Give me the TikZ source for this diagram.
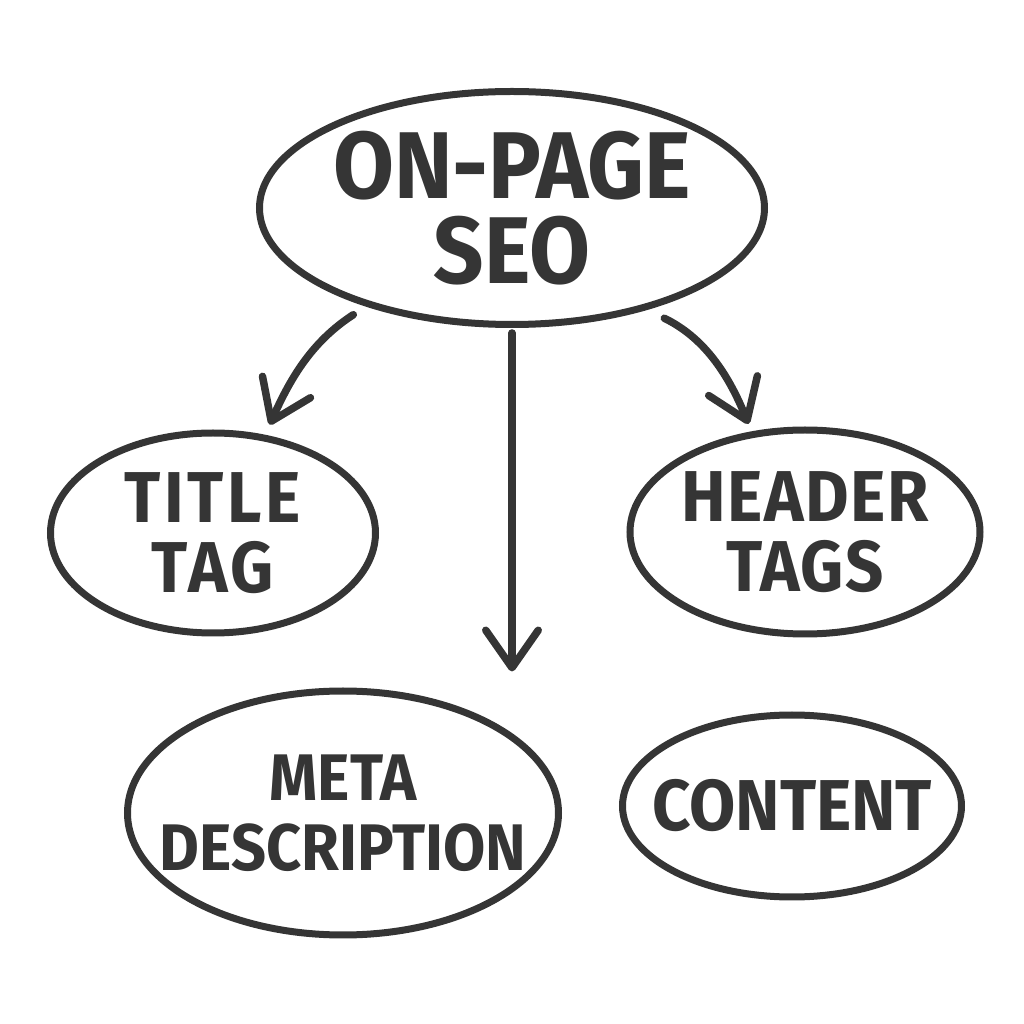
\documentclass[tikz,border=0pt]{standalone}
\usepackage{fontspec}
\setmainfont{Fira Sans}
\newfontfamily\seofont[FakeStretch=0.93]{Fira Sans}
\usepackage{tikz}
\usetikzlibrary{arrows.meta,shapes.geometric}

\definecolor{inkgray}{HTML}{353535}

\begin{document}
\begin{tikzpicture}[
    >={Straight Barb[round,length=7.5mm,width=10.5mm]},
    topic/.style={
        ellipse,
        draw=inkgray,
        line width=1.4mm,
        text=inkgray,
        font=\seofont\bfseries\fontsize{41}{40}\selectfont,
        align=center,
        inner sep=-1cm
    },
    link/.style={
        ->,
        draw=inkgray,
        line width=1.5mm,
        line cap=round
    }
]
\useasboundingbox (0,0) rectangle (20.48,20.48);

% Main topic at top
\node[topic, minimum width=10.1cm, minimum height=4.66cm,
      font=\seofont\bfseries\fontsize{54}{48}\selectfont] (onpage) at (10.24,16.32) {ON-PAGE\\SEO};

% --- Sub topics ---
\node[topic, minimum width=6.5cm, minimum height=4.0cm,
      font=\seofont\bfseries\fontsize{41}{40}\selectfont\addfontfeature{LetterSpace=5}] (title) at (4.26,9.82) {TITLE\\TAG};
\node[topic, minimum width=7.0cm, minimum height=4.08cm,
      font=\seofont\bfseries\fontsize{41}{40}\selectfont\addfontfeature{LetterSpace=2}] (header) at (16.1,9.84) {HEADER\\TAGS};
\node[topic, minimum width=8.62cm, minimum height=4.88cm,
      font=\seofont\bfseries\fontsize{37.5}{40}\selectfont] (meta) at (6.86,4.22) {META\\DESCRIPTION};
\node[topic, minimum width=6.78cm, minimum height=3.64cm] (content) at (15.84,4.36) {CONTENT};

% Arrows from main topic
\draw[link, shorten <=0.3cm, shorten >=0.22cm] (onpage.214.7) to[out=213,in=66] (title.62);
\draw[link, shorten <=0.1cm, shorten >=0.32cm] (onpage.south) -- (onpage.south |- meta.north);
\draw[link, shorten <=0.38cm, shorten >=0.16cm] (onpage.323) to[out=-26,in=112] (header.118.5);

\end{tikzpicture}
\end{document}
